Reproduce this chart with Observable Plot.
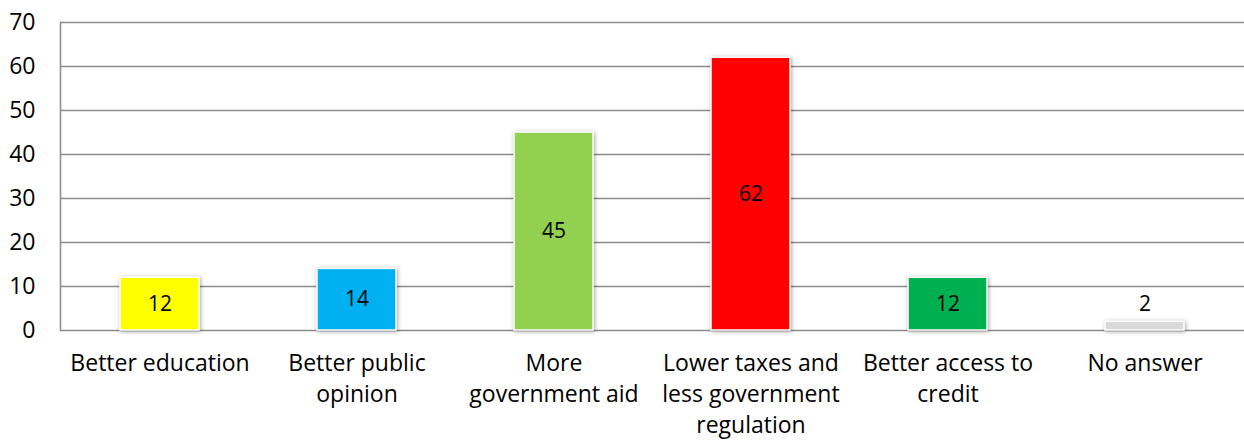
<!DOCTYPE html>
<html><head><meta charset="utf-8">
<script src="https://cdn.jsdelivr.net/npm/d3@7"></script>
<script src="https://cdn.jsdelivr.net/npm/@observablehq/plot@0.6"></script>
<style>
body{margin:0;background:#fff;}
</style></head>
<body><div id="chart"></div>
<script>
const categories = ["Better education","Better public opinion","More government aid","Lower taxes and less government regulation","Better access to credit","No answer"];
const tickLabels = ["Better education","Better public\nopinion","More\ngovernment aid","Lower taxes and\nless government\nregulation","Better access to\ncredit","No answer"];
const values = [12,14,45,62,12,2];
const colors = ["#FFFF00","#00B0F0","#92D050","#FF0000","#00B050","#D9D9D9"];
const yTicks = [0,10,20,30,40,50,60,70];

const data = categories.map((c,i)=>({cat:c, value:values[i], color:colors[i], label:tickLabels[i]}));
const inside = data.filter(d=>d.value>=5);
const above = data.filter(d=>d.value<5);

const FONT = "'Open Sans', sans-serif";
const chart = Plot.plot({
  width:1244, height:442,
  marginLeft:60, marginRight:0, marginTop:22, marginBottom:112,
  style:{fontFamily:FONT, background:"#fff"},
  x:{domain:categories, paddingInner:0.6, paddingOuter:0.3, align:0.5},
  y:{domain:[0,70], ticks:yTicks},
  marks:[
    Plot.ruleY(yTicks,{stroke:"#8c8c8c", strokeWidth:1.5}),
    Plot.frame({anchor:"left", stroke:"#8c8c8c", strokeWidth:1.5}),
    Plot.axisY({ticks:yTicks, tickSize:0, tickPadding:25, fontSize:23, fill:"#000", label:null}),
    Plot.axisX({tickSize:0, tickPadding:18, fontSize:23, fill:"#000", label:null, lineHeight:1.36,
      tickFormat:(d)=>tickLabels[categories.indexOf(d)]}),
    Plot.barY(data,{x:"cat", y:"value", fill:"color", stroke:"#fff", strokeWidth:1.5, className:"bars"}),
    Plot.text(inside,{x:"cat", y:d=>d.value/2, text:d=>String(d.value), fontSize:21, fill:"#000"}),
    Plot.text(above,{x:"cat", y:"value", text:d=>String(d.value), fontSize:21, fill:"#000", dy:-17})
  ]
});
document.getElementById("chart").appendChild(chart);
d3.select(chart).selectAll("g.bars rect").style("filter","drop-shadow(1px 1px 2px rgba(0,0,0,0.35))");
</script></body></html>
